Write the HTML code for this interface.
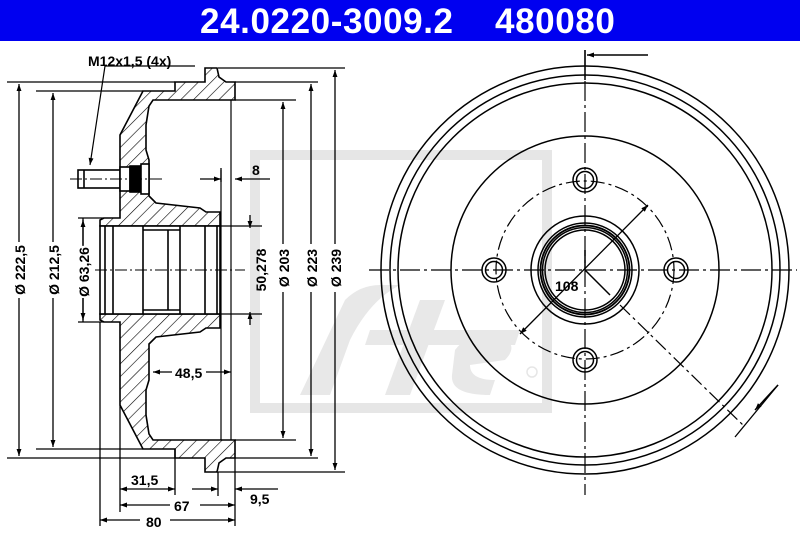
<!DOCTYPE html>
<html><head><meta charset="utf-8"><style>
html,body{margin:0;padding:0;background:#fff;}
svg{display:block;}
text{font-family:"Liberation Sans",Arial,sans-serif;font-weight:bold;}
</style></head><body>
<svg width="800" height="533" viewBox="0 0 800 533" xmlns="http://www.w3.org/2000/svg">
<defs>
<pattern id="h" patternUnits="userSpaceOnUse" width="9" height="9" patternTransform="rotate(45)">
<rect width="9" height="9" fill="#fff"/><line x1="0" y1="0" x2="0" y2="9" stroke="#000" stroke-width="1.2"/>
</pattern>
<marker id="a" viewBox="0 0 10 10" refX="10" refY="5" markerWidth="10" markerHeight="7" orient="auto-start-reverse" markerUnits="userSpaceOnUse"><path d="M0,1.5 L10,5 L0,8.5 Z" fill="#000"/></marker>
</defs>
<rect x="0" y="0" width="800" height="41" fill="#0000f0"/>
<text x="200" y="33" font-size="35" fill="#fff" letter-spacing="0.6">24.0220-3009.2</text>
<text x="495" y="33" font-size="35" fill="#fff" letter-spacing="0.6">480080</text>

<!-- watermark -->
<g fill="none" stroke="#e6e6e6" stroke-width="10">
<rect x="255" y="155" width="292" height="253"/>
</g>
<g fill="#e8e8e8">
<path d="M300,395 L345,300 Q360,285 380,285 L400,285 Q370,300 350,340 L330,395 Z"/>
<path d="M370,330 L520,330 L515,345 L365,345 Z"/>
<path d="M420,300 L445,300 L410,395 L385,395 Z"/>
<path d="M455,350 Q470,330 500,335 Q520,345 505,360 L470,365 Q470,380 495,380 L490,395 Q450,395 452,375 Z"/>
<circle cx="532" cy="372" r="5" fill="none" stroke="#e6e6e6" stroke-width="1.5"/>
</g>

<!-- LEFT SECTION -->
<g stroke="#000" stroke-width="1.6" fill="none">
<path fill="url(#h)" d="M205,68 L217,68 L219,77 L226,82 L235,82 L235,100 L153,100 L149,106 L146,125 L146,150 L149,160 L149,196 L156,203 L200,208 L206,212 L220,212 L220,226 L100,226 L100,220 L104,218 L120,218 L120,135 L143,91 L175,91 L175,82 L205,82 Z"/>
<path fill="url(#h)" d="M205,472 L217,472 L219,463 L226,458 L235,458 L235,440 L153,440 L149,434 L146,415 L146,390 L149,380 L149,344 L156,337 L200,332 L206,328 L220,328 L220,314 L100,314 L100,320 L104,322 L120,322 L120,405 L143,449 L175,449 L175,458 L205,458 Z"/>
<rect x="100" y="226" width="120" height="88" fill="#fff"/>
<line x1="105" y1="226" x2="105" y2="314"/>
<line x1="113" y1="226" x2="113" y2="314"/>
<line x1="143" y1="226" x2="143" y2="314"/>
<line x1="168" y1="230" x2="168" y2="310"/>
<line x1="180" y1="226" x2="180" y2="314"/>
<line x1="205" y1="226" x2="205" y2="314"/>
<line x1="217" y1="226" x2="217" y2="314"/>
<line x1="143" y1="230" x2="180" y2="230"/>
<line x1="143" y1="310" x2="180" y2="310"/>
<line x1="221" y1="170" x2="221" y2="440" stroke-width="1.2"/>
<line x1="231" y1="100" x2="231" y2="440" stroke-width="1.2"/>
<rect x="78" y="170" width="42" height="18" fill="#fff"/>
<line x1="84" y1="170" x2="84" y2="188"/>
<rect x="120" y="167" width="10" height="24" fill="#fff"/>
<rect x="130" y="166" width="11" height="26" fill="#000"/>
<rect x="141" y="164" width="8" height="30" fill="#fff"/>
<path d="M70,179 L165,179" stroke-width="1" stroke-dasharray="12,3,2,3"/>
<path d="M95,270 L245,270" stroke-width="1" stroke-dasharray="12,3,2,3"/>
<path d="M195,66 L105,66 L90,165" stroke-width="1.2" marker-end="url(#a)"/>
</g>

<g stroke="#000" stroke-width="1.3" fill="none">
<line x1="7" y1="82" x2="175" y2="82"/><line x1="7" y1="458" x2="175" y2="458"/>
<line x1="36" y1="91" x2="143" y2="91"/><line x1="36" y1="449" x2="143" y2="449"/>
<line x1="78" y1="218" x2="104" y2="218"/><line x1="78" y1="322" x2="104" y2="322"/>
<line x1="220" y1="226" x2="262" y2="226"/><line x1="220" y1="314" x2="262" y2="314"/>
<line x1="235" y1="100" x2="296" y2="100"/><line x1="235" y1="440" x2="296" y2="440"/>
<line x1="235" y1="82" x2="318" y2="82"/><line x1="235" y1="458" x2="318" y2="458"/>
<line x1="218" y1="68" x2="345" y2="68"/><line x1="218" y1="472" x2="345" y2="472"/>
<line x1="19" y1="84" x2="19" y2="456" marker-start="url(#a)" marker-end="url(#a)"/>
<line x1="53" y1="93" x2="53" y2="447" marker-start="url(#a)" marker-end="url(#a)"/>
<line x1="83" y1="218" x2="83" y2="322"/>
<line x1="83" y1="245" x2="83" y2="220" marker-end="url(#a)"/>
<line x1="83" y1="295" x2="83" y2="320" marker-end="url(#a)"/>
<line x1="250" y1="215" x2="250" y2="228" marker-end="url(#a)"/>
<line x1="250" y1="325" x2="250" y2="312" marker-end="url(#a)"/>
<line x1="283" y1="102" x2="283" y2="438" marker-start="url(#a)" marker-end="url(#a)"/>
<line x1="311" y1="84" x2="311" y2="456" marker-start="url(#a)" marker-end="url(#a)"/>
<line x1="335" y1="70" x2="335" y2="470" marker-start="url(#a)" marker-end="url(#a)"/>
<line x1="200" y1="179" x2="221" y2="179" marker-end="url(#a)"/>
<line x1="270" y1="179" x2="235" y2="179" marker-end="url(#a)"/>
<line x1="221" y1="168" x2="221" y2="182"/>
<line x1="153" y1="372" x2="231" y2="372" marker-start="url(#a)" marker-end="url(#a)"/>
<line x1="100" y1="322" x2="100" y2="526"/>
<line x1="120" y1="405" x2="120" y2="512"/>
<line x1="175" y1="449" x2="175" y2="495"/>
<line x1="235" y1="458" x2="235" y2="526"/>
<line x1="218" y1="472" x2="218" y2="496"/>
<line x1="120" y1="489" x2="175" y2="489" marker-start="url(#a)" marker-end="url(#a)"/>
<line x1="120" y1="505" x2="235" y2="505" marker-start="url(#a)" marker-end="url(#a)"/>
<line x1="100" y1="520" x2="235" y2="520" marker-start="url(#a)" marker-end="url(#a)"/>
<line x1="192" y1="489" x2="218" y2="489" marker-end="url(#a)"/>
<line x1="278" y1="489" x2="235" y2="489" marker-end="url(#a)"/>
</g>

<g font-size="14" fill="#000">
<text x="88" y="66" font-size="14">M12x1,5 (4x)</text>
<text x="252" y="175">8</text>
<rect x="172" y="364" width="34" height="16" fill="#fff"/>
<text x="175" y="378">48,5</text>
<rect x="133" y="476" width="34" height="12" fill="#fff"/>
<text x="131" y="485">31,5</text>
<rect x="170" y="497" width="30" height="16" fill="#fff"/>
<text x="174" y="511">67</text>
<rect x="140" y="512" width="30" height="16" fill="#fff"/>
<text x="146" y="527">80</text>
<text x="250" y="504">9,5</text>
</g>
<g font-size="14" fill="#000">
<g transform="translate(25,270) rotate(-90)"><rect x="-28" y="-13" width="56" height="16" fill="#fff"/><text x="0" y="0" text-anchor="middle">Ø 222,5</text></g>
<g transform="translate(59,270) rotate(-90)"><rect x="-28" y="-13" width="56" height="16" fill="#fff"/><text x="0" y="0" text-anchor="middle">Ø 212,5</text></g>
<g transform="translate(89,272) rotate(-90)"><rect x="-26" y="-13" width="52" height="16" fill="#fff"/><text x="0" y="0" text-anchor="middle">Ø 63,26</text></g>
<g transform="translate(266,270) rotate(-90)"><text x="0" y="0" text-anchor="middle">50,278</text></g>
<g transform="translate(289,268) rotate(-90)"><rect x="-24" y="-13" width="48" height="16" fill="#fff"/><text x="0" y="0" text-anchor="middle">Ø 203</text></g>
<g transform="translate(317,268) rotate(-90)"><rect x="-24" y="-13" width="48" height="16" fill="#fff"/><text x="0" y="0" text-anchor="middle">Ø 223</text></g>
<g transform="translate(341,268) rotate(-90)"><rect x="-24" y="-13" width="48" height="16" fill="#fff"/><text x="0" y="0" text-anchor="middle">Ø 239</text></g>
</g>

<!-- RIGHT VIEW -->
<g stroke="#000" stroke-width="1.5" fill="none">
<circle cx="585" cy="270" r="204"/>
<circle cx="585" cy="270" r="195"/>
<circle cx="585" cy="270" r="187"/>
<circle cx="585" cy="270" r="134"/>
<circle cx="585" cy="270" r="89" stroke-width="1.2" stroke-dasharray="14,4,3,4"/>
<circle cx="585" cy="270" r="54"/>
<circle cx="585" cy="270" r="47"/>
<circle cx="585" cy="270" r="44.5" stroke-width="1.8"/>
<circle cx="585" cy="270" r="42.5"/>
<circle cx="585" cy="270" r="40"/>
<circle cx="585" cy="180" r="12"/><circle cx="585" cy="180" r="8.5"/>
<circle cx="585" cy="360" r="12"/><circle cx="585" cy="360" r="8.5"/>
<circle cx="494" cy="270" r="12"/><circle cx="494" cy="270" r="8.5"/>
<circle cx="676" cy="270" r="12"/><circle cx="676" cy="270" r="8.5"/>
<path d="M369,270 L797,270" stroke-width="1.2" stroke-dasharray="20,4,3,4"/>
<path d="M585,50 L585,495" stroke-width="1.2" stroke-dasharray="20,4,3,4"/>
<line x1="585" y1="50" x2="585" y2="80" stroke-width="1.5"/>
<line x1="648" y1="55" x2="587" y2="55" marker-end="url(#a)"/>
<line x1="520" y1="334" x2="648" y2="205" stroke-width="1.3" marker-start="url(#a)" marker-end="url(#a)"/>
<line x1="585" y1="270" x2="585" y2="250" stroke-width="1.5"/>
<line x1="585" y1="270" x2="610" y2="295" stroke-width="1.5"/>
<path d="M620,305 L745,427" stroke-width="1.2" stroke-dasharray="14,4,3,4"/>
<line x1="735" y1="437" x2="778" y2="385" stroke-width="1.3"/>
<line x1="778" y1="385" x2="755" y2="410" marker-end="url(#a)"/>
</g>
<text x="555" y="291" font-size="14" fill="#000">108</text>
</svg>
</body></html>
